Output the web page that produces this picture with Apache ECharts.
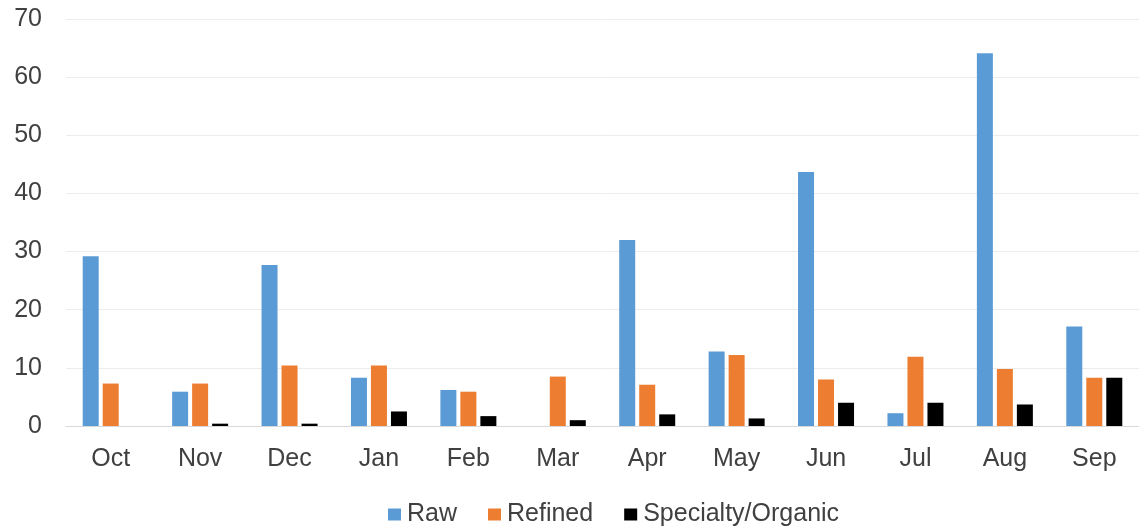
<!DOCTYPE html>
<html>
<head>
<meta charset="utf-8">
<script src="https://cdn.jsdelivr.net/npm/echarts@6/dist/echarts.min.js"></script>
<style>
  html, body { margin: 0; padding: 0; background: #ffffff; }
  #chart { width: 1139px; height: 531px; }
</style>
</head>
<body>
<div id="chart"></div>
<script>
// Monthly volumes by product type
const months = ['Oct', 'Nov', 'Dec', 'Jan', 'Feb', 'Mar', 'Apr', 'May', 'Jun', 'Jul', 'Aug', 'Sep'];
const raw = [29.2, 5.9, 27.7, 8.3, 6.2, 0, 32.0, 12.8, 43.7, 2.2, 64.1, 17.1];
const refined = [7.3, 7.3, 10.4, 10.4, 5.9, 8.5, 7.1, 12.2, 8.0, 11.9, 9.8, 8.3];
const specialty = [0, 0.4, 0.4, 2.5, 1.7, 1.0, 2.0, 1.3, 4.0, 4.0, 3.7, 8.3];
const yTicks = [0, 10, 20, 30, 40, 50, 60, 70];

const FONT = '"Liberation Sans", Arial, sans-serif';
const TEXT = '#404040';

const chart = echarts.init(document.getElementById('chart'), null, { renderer: 'canvas' });

function barSeries(name, data, color) {
  return {
    name: name,
    type: 'bar',
    data: data,
    barWidth: 16,
    barGap: '25%',
    itemStyle: { color: color },
    emphasis: { disabled: true }
  };
}

chart.setOption({
  animation: false,
  backgroundColor: '#ffffff',
  textStyle: { fontFamily: FONT },
  grid: { left: 66, width: 1080, top: 19, bottom: 105, containLabel: false },
  legend: {
    left: 383,
    top: 497,
    itemWidth: 13,
    itemHeight: 12,
    itemGap: 31,
    icon: 'rect',
    textStyle: { fontFamily: FONT, fontSize: 25, color: TEXT, padding: [0, 0, 0, 1] },
    data: ['Raw', 'Refined', 'Specialty/Organic']
  },
  xAxis: {
    type: 'category',
    data: months,
    axisTick: { show: false },
    axisLine: { lineStyle: { color: '#d9d9d9', width: 1 } },
    axisLabel: { fontFamily: FONT, fontSize: 25, color: TEXT, margin: 21 }
  },
  yAxis: {
    type: 'value',
    min: yTicks[0],
    max: yTicks[yTicks.length - 1],
    interval: 10,
    axisLine: { show: false },
    axisTick: { show: false },
    splitLine: { lineStyle: { color: '#ececec', width: 1 } },
    axisLabel: { fontFamily: FONT, fontSize: 25, color: TEXT, margin: 24 }
  },
  series: [
    barSeries('Raw', raw, '#5b9bd5'),
    barSeries('Refined', refined, '#ed7d31'),
    barSeries('Specialty/Organic', specialty, '#000000')
  ]
});
</script>
</body>
</html>
